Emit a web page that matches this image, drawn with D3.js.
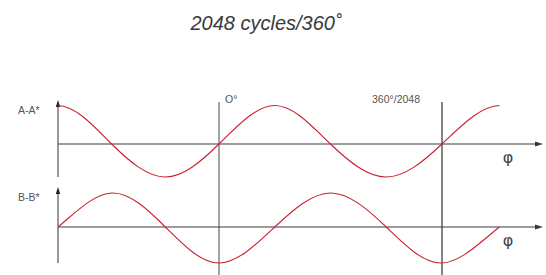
<!DOCTYPE html>
<html>
<head>
<meta charset="utf-8">
<script src="https://cdn.jsdelivr.net/npm/d3@7"></script>
<style>
	body { margin: 0; background: #fff; }
	svg { display: block; }
	text { font-family: "Liberation Sans", Arial, sans-serif; fill: #555; }
</style>
</head>
<body>
<script>
// DATA
var titleText = "2048 cycles/360˚"
var phaseDeg = [-360, -270, -180, -90, 0, 90, 180, 270, 360, 450, 540] // key points of the waveform
var seriesA = [0, 1, 0, -1, 0, 1, 0, -1, 0, 1, 0]
var seriesB = [-1, 0, 1, 0, -1, 0, 1, 0, -1, 0, 1]
var markDeg = [0, 360]
var markLabels = ["O°", "360°/2048"]
var panelLabels = ["A-A*", "B-B*"]

var width = 546, height = 275

var svg = d3.select("body").append("svg")
	.attr("width", width)
	.attr("height", height)

// phase -> x (the drawing squeezes the first 3/4 period a little)
var x = d3.scaleLinear().domain([-270, 0, 360, 518]).range([58, 219, 442, 543])

var panels = [
	{ label: panelLabels[0], values: seriesA, y: d3.scaleLinear().domain([-1, 0, 1]).range([177, 144, 105.5]), top: 100, bottom: 177 },
	{ label: panelLabels[1], values: seriesB, y: d3.scaleLinear().domain([-1, 0, 1]).range([263, 227, 193]), top: 187, bottom: 263 }
]

var axisColor = "#3a3a3a"
var curveColor = "#c8202f"

svg.append("clipPath").attr("id", "clip")
	.append("rect")
	.attr("x", x(-270)).attr("y", 0)
	.attr("width", x(450) - x(-270)).attr("height", height)

// vertical marks at 0° and 360°
svg.selectAll("line.mark").data(markDeg).enter().append("line")
	.attr("class", "mark")
	.attr("x1", function(d) { return x(d) }).attr("x2", function(d) { return x(d) })
	.attr("y1", 102).attr("y2", 275)
	.attr("stroke", function(d, i) { return i == 0 ? "#666" : "#333" })
	.attr("stroke-width", 1.2)

svg.selectAll("text.mark").data(markDeg).enter().append("text")
	.attr("class", "mark")
	.attr("x", function(d, i) { return i == 0 ? x(d) + 6 : x(d) - 46 })
	.attr("y", 103)
	.attr("text-anchor", function(d, i) { return i == 0 ? "start" : "middle" })
	.style("font-size", "10.5px")
	.text(function(d, i) { return markLabels[i] })

panels.forEach(function(p) {
	var y0 = p.y(0)
	var g = svg.append("g")

	// horizontal axis with arrow
	g.append("line")
		.attr("x1", x(-270)).attr("x2", x(518) - 6)
		.attr("y1", y0).attr("y2", y0)
		.attr("stroke", axisColor).attr("stroke-width", 1.2)
	g.append("path")
		.attr("d", "M" + x(518) + "," + y0 + "L" + (x(518) - 8) + "," + (y0 - 2.5) + "L" + (x(518) - 8) + "," + (y0 + 2.5) + "Z")
		.attr("fill", axisColor)

	// vertical axis with arrow
	g.append("line")
		.attr("x1", x(-270)).attr("x2", x(-270))
		.attr("y1", p.top + 5).attr("y2", p.bottom)
		.attr("stroke", "#555").attr("stroke-width", 1.2)
	g.append("path")
		.attr("d", "M" + x(-270) + "," + p.top + "L" + (x(-270) - 2.2) + "," + (p.top + 7) + "L" + (x(-270) + 2.2) + "," + (p.top + 7) + "Z")
		.attr("fill", "#222")

	// waveform
	var line = d3.line()
		.x(function(d, i) { return x(phaseDeg[i]) })
		.y(function(d) { return p.y(d) })
		.curve(d3.curveNatural)
	g.append("path")
		.attr("d", line(p.values))
		.attr("clip-path", "url(#clip)")
		.attr("fill", "none")
		.attr("stroke", curveColor)
		.attr("stroke-width", 1.1)

	g.append("text")
		.attr("x", 18).attr("y", p.top + 14)
		.style("font-size", "10.5px")
		.text(p.label)

	g.append("text")
		.attr("x", 508).attr("y", y0 + 19)
		.attr("text-anchor", "middle")
		.style("font-family", "'DejaVu Sans', sans-serif")
		.style("font-size", "16px")
		.style("fill", "#444")
		.text("φ")
})

svg.append("text")
	.attr("x", 266).attr("y", 30)
	.attr("text-anchor", "middle")
	.style("font-size", "20px")
	.style("font-style", "italic")
	.style("fill", "#3a3a3a")
	.text(titleText)
</script>
</body>
</html>
